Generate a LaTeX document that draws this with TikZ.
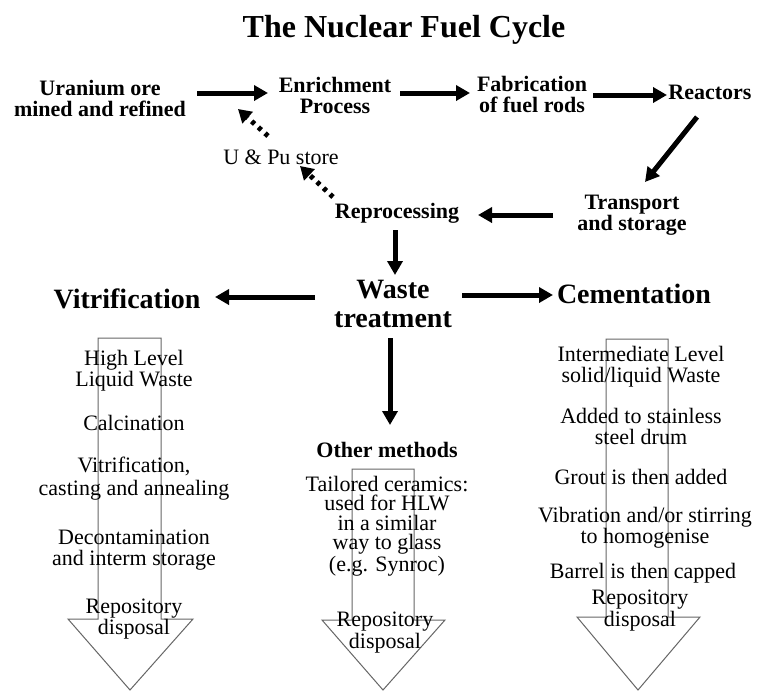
\documentclass[tikz,border=0pt]{standalone}
\usepackage{fontspec}
\setmainfont{Liberation Serif}
\usetikzlibrary{arrows.meta}
\begin{document}
\begin{tikzpicture}[x=1pt,y=-1pt,
  lbl/.style={inner sep=0pt, align=center, anchor=base, font=\fontsize{22}{20.5}\selectfont\bfseries},
  txt/.style={inner sep=0pt, align=center, anchor=base, font=\fontsize{22}{21}\selectfont},
  tighttxt/.style={txt, font=\fontsize{22}{19.5}\selectfont},
  headlbl/.style={inner sep=0pt, align=center, anchor=base, font=\fontsize{28}{29}\selectfont\bfseries},
  fat/.style={line width=5pt, -{Triangle[length=14pt,width=15pt]}},
  dotarr/.style={line width=5pt, dash pattern=on 4pt off 5pt, -{Triangle[length=13pt,width=15pt]}},
  hollow/.style={draw=black!60, line width=1pt, line join=miter}]
\useasboundingbox (0,0) rectangle (758,691);
\fill[white] (0,0) rectangle (758,691);

% hollow downward arrows
\draw[hollow] (98,338) -- (161,338) -- (161,619) -- (193,619) -- (130,690) -- (68,619) -- (98,619) -- cycle;
\draw[hollow] (352,469) -- (414,469) -- (414,620) -- (445,620) -- (383,690) -- (322,620) -- (352,620) -- cycle;
\draw[hollow] (606,339) -- (668,339) -- (668,617) -- (700,617) -- (638,690) -- (577,617) -- (606,617) -- cycle;

% title
\node[inner sep=0pt, anchor=base, font=\fontsize{32}{34}\selectfont\bfseries] (title) at (404,37) {The Nuclear Fuel Cycle};

% cycle labels (base = baseline of last line)
\node[lbl] (ura) at (100,116) {Uranium ore\\mined and refined};
\node[lbl] (enr) at (335,113) {Enrichment\\Process};
\node[lbl] (fab) at (532,112) {Fabrication\\of fuel rods};
\node[lbl] (rea) at (710,99) {Reactors};
\node[txt] (upu) at (281,164) {U \& Pu store};
\node[lbl] (repro) at (397,218) {Reprocessing};
\node[lbl] (trans) at (632,230) {Transport\\and storage};
\node[headlbl] (waste) at (393,327) {Waste\\treatment};
\node[headlbl] (vit) at (127,308) {Vitrification};
\node[headlbl] (cem) at (634,303) {Cementation};
\node[lbl] (other) at (387,457) {Other methods};

% column texts
\node[txt] (hl) at (134,386) {High Level\\Liquid Waste};
\node[txt] (calc) at (134,430) {Calcination};
\node[txt, font=\fontsize{22}{23}\selectfont] (vitr) at (134,495) {Vitrification,\\casting and annealing};
\node[txt] (deco) at (134,565) {Decontamination\\and interm storage};
\node[txt] (repL) at (134,634) {Repository\\disposal};

\node[tighttxt] (tail) at (387,571) {Tailored ceramics:\\used for HLW\\in a similar\\way to glass\\(e.g. Synroc)};
\node[tighttxt] (repM) at (385,648) {Repository\\disposal};

\node[txt] (ilw) at (641,382) {Intermediate Level\\solid/liquid Waste};
\node[txt] (drum) at (641,444) {Added to stainless\\steel drum};
\node[txt] (grout) at (641,484) {Grout is then added};
\node[txt] (vib) at (645,543) {Vibration and/or stirring\\to homogenise};
\node[txt] (cap) at (643,578) {Barrel is then capped};
\node[txt, font=\fontsize{22}{20}\selectfont] (repR) at (640,626) {Repository\\disposal};

% connectors
\draw[fat] ([shift={(97,-23)}]ura.base) -- ([shift={(-67,-20)}]enr.base);
\draw[fat] ([shift={(65,-20)}]enr.base) -- ([shift={(-62,-19)}]fab.base);
\draw[fat] ([shift={(61,-17)}]fab.base) -- ([shift={(-43,-4)}]rea.base);
\draw[fat] ([shift={(-13,18)}]rea.base) -- ([shift={(13,-48)}]trans.base);
\draw[fat] ([shift={(-79,-15)}]trans.base) -- ([shift={(81,-3)}]repro.base);
\draw[fat] ([shift={(-2,12)}]repro.base) -- ([shift={(2,-52)}]waste.base);
\draw[fat] ([shift={(-78,-30)}]waste.base) -- ([shift={(88,-11)}]vit.base);
\draw[fat] ([shift={(69,-32)}]waste.base) -- ([shift={(-81,-8)}]cem.base);
\draw[fat] ([shift={(-3,11)}]waste.base) -- ([shift={(3,-32)}]other.base);
\draw[dotarr] ([shift={(-64,-21)}]repro.base) -- ([shift={(19,2)}]upu.base);
\draw[dotarr] ([shift={(-13,-28)}]upu.base) -- ([shift={(-97,-4)}]enr.base);
\end{tikzpicture}
\end{document}
